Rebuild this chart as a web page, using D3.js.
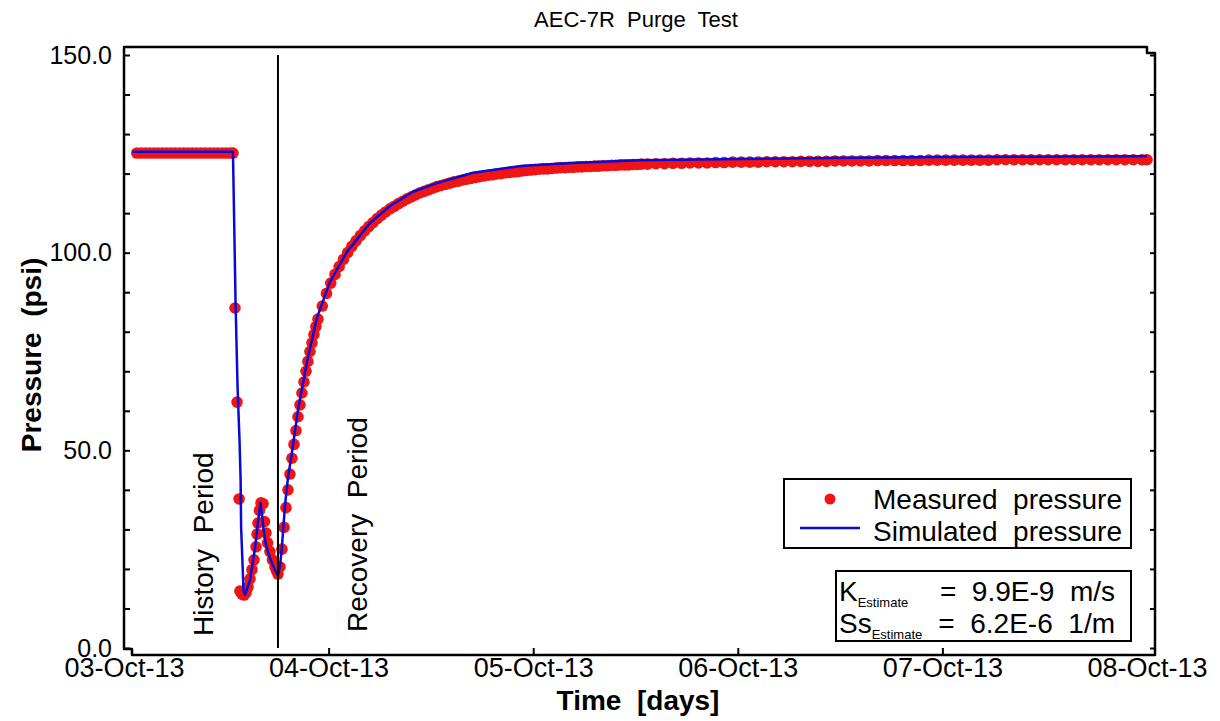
<!DOCTYPE html>
<html>
<head>
<meta charset="utf-8">
<script src="https://cdn.jsdelivr.net/npm/d3@7"></script>
<style>
  html, body { margin: 0; padding: 0; background: #ffffff; }
  svg { display: block; }
  text { font-family: "Liberation Sans", Arial, sans-serif; fill: #000; white-space: pre; }
</style>
</head>
<body>
<svg id="chart" width="1220" height="721"></svg>
<script>
// Time axis: hours since 03-Oct-13 00:00, plotted over five days
const startDate = new Date(2013, 9, 3, 0, 0, 0);
const endDate = new Date(2013, 9, 8, 0, 0, 0);
const dayTicks = [0, 24, 48, 72, 96, 120];
const pressureTicks = [0, 50, 100, 150];
const recoveryStartHour = 18.06;

// Measured pressure, history period [hours, psi]
const measuredHistory = [
  [1.5, 125.2], [2.0, 125.2], [2.5, 125.2], [3.0, 125.2], [3.5, 125.2], [4.0, 125.2],
  [4.5, 125.2], [5.0, 125.2], [5.5, 125.2], [6.0, 125.2], [6.5, 125.2], [7.0, 125.2],
  [7.5, 125.2], [8.0, 125.2], [8.5, 125.2], [9.0, 125.2], [9.5, 125.2], [10.0, 125.2],
  [10.5, 125.2], [11.0, 125.2], [11.5, 125.2], [12.0, 125.2], [12.5, 125.2], [12.78, 125.2],
  [13.02, 86.0], [13.26, 62.2], [13.50, 37.7],
  [13.60, 14.4], [13.84, 13.6], [14.08, 13.4], [14.31, 14.0], [14.55, 15.4], [14.78, 17.5],
  [15.01, 19.8], [15.25, 22.3], [15.49, 25.6], [15.61, 28.8], [15.72, 31.6], [15.89, 34.8],
  [16.07, 36.7], [16.31, 36.5], [16.48, 32.0], [16.66, 29.1], [16.84, 26.6], [17.12, 24.4],
  [17.41, 22.3], [17.71, 20.5], [17.89, 19.6], [18.06, 18.7]
];

// Measured pressure, recovery period [hours, psi]
const measuredRecovery = [
  [18.30, 20.5], [18.53, 25.0], [18.77, 30.5], [19.00, 35.5], [19.23, 40.0], [19.46, 44.0],
  [19.70, 48.0], [19.94, 51.5], [20.17, 55.0], [20.41, 58.5], [20.64, 61.5], [20.87, 64.5],
  [21.11, 67.3], [21.35, 70.0], [21.57, 72.5], [21.81, 75.0], [22.05, 77.2], [22.28, 79.3],
  [22.51, 81.3], [22.75, 83.2], [23.26, 86.5], [23.75, 89.7], [24.25, 92.3], [24.75, 94.5],
  [25.24, 96.5], [25.74, 98.3], [26.23, 100.0], [26.73, 101.6], [27.22, 103.0], [27.72, 104.3],
  [28.22, 105.5], [28.71, 106.6], [29.21, 107.6], [29.70, 108.6], [30.20, 109.5], [30.69, 110.3],
  [31.19, 111.1], [31.7, 111.7], [32.2, 112.4], [32.7, 113.0], [33.2, 113.6], [33.7, 114.1],
  [34.2, 114.6], [34.7, 115.1], [35.2, 115.5], [35.7, 115.9], [36.2, 116.3], [36.7, 116.7],
  [37.2, 117.0], [37.7, 117.3], [38.2, 117.6], [38.7, 117.9], [39.2, 118.1], [39.7, 118.4],
  [40.2, 118.6], [40.7, 118.8], [41.2, 119.0], [41.7, 119.2], [42.2, 119.4], [42.7, 119.6],
  [43.2, 119.7], [43.7, 119.9], [44.2, 120.0], [44.7, 120.2], [45.2, 120.3], [45.7, 120.4],
  [46.2, 120.5], [46.7, 120.7], [47.2, 120.8], [47.7, 120.9], [48.2, 121.0], [48.7, 121.1],
  [49.2, 121.2], [49.7, 121.2], [50.2, 121.3], [50.7, 121.4], [51.2, 121.5], [51.7, 121.5],
  [52.2, 121.6], [52.7, 121.6], [53.2, 121.7], [53.7, 121.7], [54.2, 121.8], [54.7, 121.8],
  [55.2, 121.9], [55.7, 121.9], [56.2, 122.0], [56.7, 122.0], [57.2, 122.1], [57.7, 122.1],
  [58.2, 122.2], [58.7, 122.2], [59.2, 122.2], [59.7, 122.3], [60.2, 122.3], [60.7, 122.4],
  [61.4, 122.4], [62.4, 122.5], [63.4, 122.5], [64.4, 122.6], [65.4, 122.6],
  [66.4, 122.7], [67.4, 122.7], [68.4, 122.7], [69.4, 122.8], [70.4, 122.8], [71.4, 122.9],
  [72.4, 122.9], [73.4, 122.9], [74.4, 122.9], [75.4, 123.0], [76.4, 123.0], [77.4, 123.0],
  [78.4, 123.0], [79.4, 123.1], [80.4, 123.1], [81.4, 123.1], [82.4, 123.1], [83.4, 123.2],
  [84.4, 123.2], [85.4, 123.2], [86.4, 123.2], [87.4, 123.2], [88.4, 123.3], [89.4, 123.3],
  [90.4, 123.3], [91.4, 123.3], [92.4, 123.3], [93.4, 123.3], [94.4, 123.4], [95.4, 123.4],
  [96.4, 123.4], [97.4, 123.4], [98.4, 123.4], [99.4, 123.4], [100.4, 123.4], [101.4, 123.4],
  [102.4, 123.5], [103.4, 123.5], [104.4, 123.5], [105.4, 123.5], [106.4, 123.5], [107.4, 123.5],
  [108.4, 123.5], [109.4, 123.5], [110.4, 123.5], [111.4, 123.5], [112.4, 123.5], [113.4, 123.5],
  [114.4, 123.5], [115.4, 123.5], [116.4, 123.5], [117.4, 123.5], [118.4, 123.5], [119.4, 123.5],
  [120.0, 123.5]
];

// Simulated pressure [hours, psi]
const simulated = [
  [1.0, 125.5], [12.78, 125.5], [12.90, 110.8], [13.08, 88.0], [13.32, 66.0], [13.55, 52.6],
  [13.68, 42.5], [13.74, 30.4], [14.02, 14.7], [14.19, 13.4], [14.78, 17.2], [15.37, 25.3],
  [15.72, 31.9], [16.01, 36.7], [16.19, 33.6], [16.42, 29.1], [16.66, 26.0], [17.00, 23.5],
  [17.36, 21.5], [17.71, 19.7], [18.06, 18.2], [18.30, 20.7], [18.53, 25.8], [18.89, 36.2],
  [19.23, 43.0], [19.71, 49.6], [20.41, 60.2], [21.47, 72.4], [22.63, 83.5], [24.16, 92.6],
  [26.15, 100.2], [28.86, 107.5], [31.20, 111.8], [33.90, 115.4], [36.72, 117.6],
  [40.94, 120.2], [46.80, 122.0], [52.67, 122.7], [60.53, 123.4], [72.22, 123.7],
  [85.21, 124.0], [96.9, 124.2], [120.0, 124.4]
];

const legendLabels = ["Measured  pressure", "Simulated  pressure"];
const kValue = "=  9.9E-9  m/s";
const ssValue = "=  6.2E-6  1/m";

const RED = "#f01414";
const BLUE = "#0a0ad8";

const svg = d3.select("#chart");
const hoursToDate = h => new Date(startDate.getTime() + h * 3600 * 1000);

const x = d3.scaleTime().domain([startDate, endDate]).range([124, 1147]);
const y = d3.scaleLinear().domain([0, 150]).range([648, 55]);

// Frame: offset box edges
const frame = { left: 124, top: 47, right: 1155, bottom: 655 };

// Title
svg.append("text")
  .attr("x", 636).attr("y", 27)
  .attr("text-anchor", "middle")
  .style("font-size", "22px")
  .text("AEC-7R  Purge  Test");

// Measured points
const measured = measuredHistory.concat(measuredRecovery);
svg.append("g")
  .selectAll("circle")
  .data(measured)
  .join("circle")
  .attr("cx", d => x(hoursToDate(d[0])))
  .attr("cy", d => y(d[1]))
  .attr("r", 5.8)
  .attr("fill", RED);

// Simulated line
const line = d3.line()
  .x(d => x(hoursToDate(d[0])))
  .y(d => y(d[1]));
svg.append("path")
  .datum(simulated)
  .attr("d", line)
  .attr("fill", "none")
  .attr("stroke", BLUE)
  .attr("stroke-width", 2.5)
  .attr("stroke-linejoin", "round");

// Divider between history and recovery periods
svg.append("line")
  .attr("x1", x(hoursToDate(recoveryStartHour)))
  .attr("x2", x(hoursToDate(recoveryStartHour)))
  .attr("y1", y(150)).attr("y2", y(0))
  .attr("stroke", "#000").attr("stroke-width", 2);

// Period annotations
svg.append("text")
  .attr("transform", `translate(213,636) rotate(-90)`)
  .style("font-size", "28px")
  .text("History  Period");
svg.append("text")
  .attr("transform", `translate(367,632) rotate(-90)`)
  .style("font-size", "28px")
  .text("Recovery  Period");

// Frame outline
const step = 6;
svg.append("path")
  .attr("d", [
    `M${frame.right - 8},${frame.top}`,
    `H${frame.left}`,
    `V${frame.bottom - step}`,
    `H${frame.left + 8}`,
    `V${frame.bottom}`,
    `H${frame.right}`,
    `V${frame.top + step}`,
    `H${frame.right - 8}`,
    `Z`
  ].join(" "))
  .attr("fill", "none")
  .attr("stroke", "#000")
  .attr("stroke-width", 2.5)
  .attr("stroke-linejoin", "round");

// Left axis: minor ticks every 10 psi, labels every 50
const fmt = d3.format(".1f");
const leftAxis = d3.axisLeft(y)
  .tickValues(d3.range(0, 151, 10))
  .tickSizeInner(-6).tickSizeOuter(0).tickPadding(12)
  .tickFormat(v => pressureTicks.includes(v) ? fmt(v) : "");
const gl = svg.append("g").attr("transform", `translate(${frame.left},0)`).call(leftAxis);
gl.select(".domain").remove();
gl.selectAll(".tick line").attr("stroke", "#000").attr("stroke-width", 2);
gl.selectAll(".tick text").style("font-size", "25px").attr("font-family", null);

// Right axis ticks
const rightAxis = d3.axisRight(y)
  .tickValues(d3.range(0, 151, 10))
  .tickSizeInner(-5).tickSizeOuter(0)
  .tickFormat("");
const gr = svg.append("g").attr("transform", `translate(${frame.right},0)`).call(rightAxis);
gr.select(".domain").remove();
gr.selectAll(".tick line").attr("stroke", "#000").attr("stroke-width", 2);

// Bottom axis: day ticks
const bottomAxis = d3.axisBottom(x)
  .tickValues(dayTicks.map(hoursToDate))
  .tickSizeInner(-7).tickSizeOuter(0).tickPadding(3)
  .tickFormat(d3.timeFormat("%d-%b-%y"));
const gb = svg.append("g").attr("transform", `translate(0,${frame.bottom})`).call(bottomAxis);
gb.select(".domain").remove();
gb.selectAll(".tick line").attr("stroke", "#000").attr("stroke-width", 2);
gb.selectAll(".tick text").style("font-size", "27px").attr("font-family", null)
  .attr("dy", "0.72em");
// The first and last day ticks sit on the frame corners
gb.selectAll(".tick line").filter((d, i) => i === 0 || i === dayTicks.length - 1).remove();

// Axis titles
svg.append("text")
  .attr("x", 638).attr("y", 710)
  .attr("text-anchor", "middle")
  .style("font-size", "28px").style("font-weight", "bold")
  .text("Time  [days]");
svg.append("text")
  .attr("transform", "translate(41,355) rotate(-90)")
  .attr("text-anchor", "middle")
  .style("font-size", "28px").style("font-weight", "bold")
  .text("Pressure  (psi)");

// Legend
const lg = svg.append("g");
lg.append("rect")
  .attr("x", 784).attr("y", 479).attr("width", 347).attr("height", 69)
  .attr("fill", "#fff").attr("stroke", "#000").attr("stroke-width", 2);
lg.append("circle").attr("cx", 830).attr("cy", 499).attr("r", 5.5).attr("fill", RED);
lg.append("line").attr("x1", 800).attr("x2", 860).attr("y1", 528).attr("y2", 528)
  .attr("stroke", BLUE).attr("stroke-width", 2.5);
lg.selectAll("text.leg")
  .data(legendLabels)
  .join("text")
  .attr("class", "leg")
  .attr("x", 873)
  .attr("y", (d, i) => 509 + i * 32)
  .style("font-size", "28px")
  .text(d => d);

// Parameter estimates box
const pb = svg.append("g");
pb.append("rect")
  .attr("x", 836).attr("y", 571).attr("width", 295).attr("height", 70)
  .attr("fill", "#fff").attr("stroke", "#000").attr("stroke-width", 2);
const kText = pb.append("text").attr("x", 839).attr("y", 601).style("font-size", "28px");
kText.append("tspan").text("K");
kText.append("tspan").attr("dy", 6).style("font-size", "13px").text("Estimate");
pb.append("text").attr("x", 1115).attr("y", 601).attr("text-anchor", "end")
  .style("font-size", "28px").text(kValue);
const sText = pb.append("text").attr("x", 839).attr("y", 633).style("font-size", "28px");
sText.append("tspan").text("Ss");
sText.append("tspan").attr("dy", 6).style("font-size", "13px").text("Estimate");
pb.append("text").attr("x", 1115).attr("y", 633).attr("text-anchor", "end")
  .style("font-size", "28px").text(ssValue);
</script>
</body>
</html>
